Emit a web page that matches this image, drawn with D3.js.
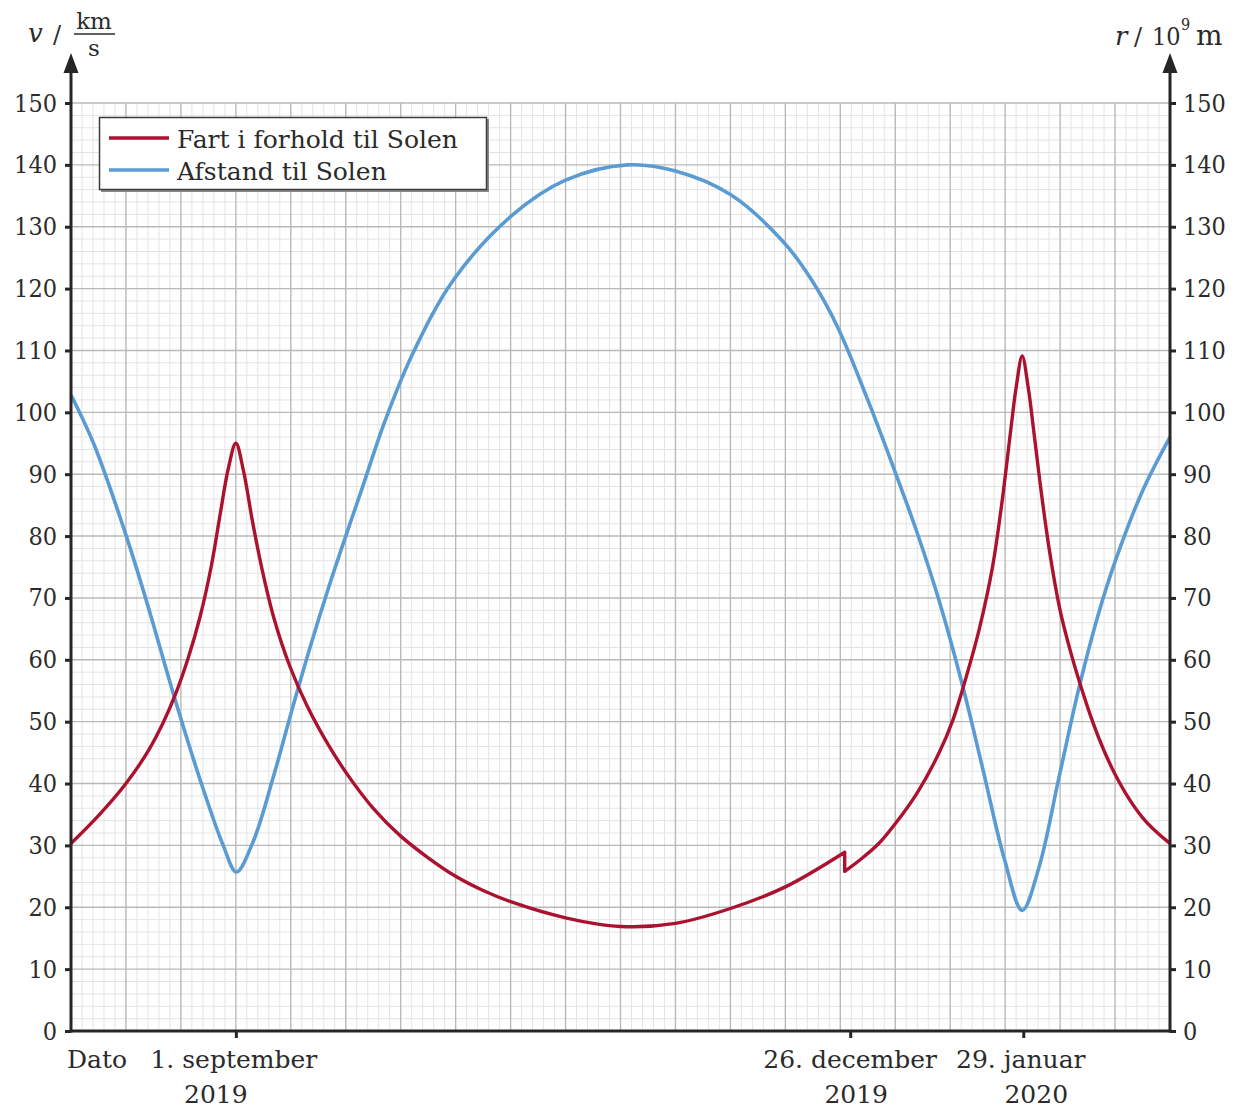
<!DOCTYPE html>
<html>
<head>
<meta charset="utf-8">
<script src="https://cdn.jsdelivr.net/npm/d3@7"></script>
<style>
  html, body { margin: 0; padding: 0; background: #fff; }
  svg text { font-family: "DejaVu Serif", serif; fill: #2b2b2b; }
  svg text.num { font-family: "DejaVu Serif Condensed", "DejaVu Serif", serif; }
</style>
</head>
<body>
<div id="chart"></div>
<script>
// Tid i gitterenheder (20 store tern langs x-aksen)
// Fart i forhold til Solen, før og efter manøvren 26. december
const fartTidFoer = [0, 0.5, 1.0, 1.4, 1.67, 1.9, 2.13, 2.35, 2.55, 2.72, 2.86, 3.0, 3.14, 3.3, 3.48, 3.7, 3.98,
    4.3, 4.7, 5.05, 5.5, 6.0, 6.5, 7.0, 7.5, 8.0, 9.0, 10.0, 11.0, 12.0, 13.0, 14.08];
const fartFoer = [30.3, 34.8, 40.0, 45.2, 49.7, 54.4, 60.2, 67.0, 75.0, 83.8, 90.8, 95.0, 90.5, 82.5, 74.5, 66.5, 59.0,
    52.5, 46.0, 41.2, 36.0, 31.5, 28.0, 25.0, 22.7, 20.9, 18.3, 16.9, 17.4, 19.8, 23.3, 28.9];
const fartTidEfter = [14.08, 14.35, 14.7, 15.0, 15.4, 15.8, 16.05, 16.3, 16.53, 16.77, 16.95, 17.1, 17.2, 17.31,
    17.42, 17.52, 17.63, 17.8, 18.0, 18.2, 18.35, 18.6, 18.8, 19.0, 19.25, 19.5, 19.75, 20];
const fartEfter = [25.8, 27.6, 30.3, 33.5, 38.5, 45.0, 50.3, 57.5, 65.0, 75.0, 86.0, 97.0, 104.0, 109.1,
    104.0, 97.0, 89.0, 78.0, 68.0, 61.0, 56.5, 49.8, 45.3, 41.5, 37.6, 34.5, 32.2, 30.3];

// Afstand til Solen (10^9 m)
const afstandTid = [0, 0.41, 1.01, 1.44, 1.86, 2.35, 2.77, 3.01, 3.31, 3.68, 4.04, 4.35, 4.7, 5.0, 5.29, 5.71,
    6.22, 6.96, 8.02, 8.99, 10.13, 11.0, 12.0, 12.97, 13.47, 13.95, 14.5, 14.95, 15.4, 15.8, 16.22, 16.59,
    16.98, 17.31, 17.62, 17.98, 18.35, 18.7, 19.01, 19.5, 20];
const afstand = [102.8, 95.0, 79.9, 67.5, 54.6, 40.6, 30.0, 25.7, 30.5, 41.0, 52.5, 62.0, 72.0, 80.0, 87.5, 98.5,
    109.5, 121.4, 131.8, 137.5, 140.0, 139.0, 135.2, 127.5, 121.5, 113.8, 102.0, 91.5, 80.5, 69.5, 56.0, 42.5,
    28.0, 19.5, 26.6, 41.0, 55.7, 67.5, 76.1, 87.3, 96.0];

const yTicks = d3.range(0, 151, 10);
const datoTicks = [3.0, 14.18, 17.33];
const datoLabels = [["1. september", "2019"], ["26. december", "2019"], ["29. januar", "2020"]];
const legendLabels = ["Fart i forhold til Solen", "Afstand til Solen"];

const width = 1242, height = 1110;
const plot = { left: 71, right: 1170, top: 103, bottom: 1031 };
const colors = { fart: '#ab1230', afstand: '#5b9bd3', axis: '#262626' };

class OrbitChart {
    constructor(containerId) {
        this.container = d3.select(`#${containerId}`);
        this.init();
    }

    init() {
        this.svg = this.container.append('svg')
            .attr('width', width)
            .attr('height', height);

        this.x = d3.scaleLinear().domain([0, 20]).range([plot.left, plot.right]);
        this.y = d3.scaleLinear().domain([0, 150]).range([plot.bottom, plot.top]);
    }

    render() {
        this.drawGrid();
        this.drawCurves();
        this.drawAxes();
        this.drawLegend();
        this.drawTitles();
    }

    drawGrid() {
        const g = this.svg.append('g').attr('class', 'grid');
        const xs = d3.range(0, 101).map(i => i / 5);
        const ys = d3.range(0, 76).map(i => i * 2);

        // fine tern
        g.selectAll('line.minor-x')
            .data(xs.filter(d => Math.abs(d - Math.round(d)) > 1e-6))
            .join('line')
            .attr('x1', d => this.x(d)).attr('x2', d => this.x(d))
            .attr('y1', plot.top).attr('y2', plot.bottom)
            .attr('stroke', '#e4e4e4').attr('stroke-width', 1);
        g.selectAll('line.minor-y')
            .data(ys.filter(d => d % 10 !== 0))
            .join('line')
            .attr('x1', plot.left).attr('x2', plot.right)
            .attr('y1', d => this.y(d)).attr('y2', d => this.y(d))
            .attr('stroke', '#e4e4e4').attr('stroke-width', 1);

        // store tern
        g.selectAll('line.major-x')
            .data(d3.range(1, 20))
            .join('line')
            .attr('x1', d => this.x(d)).attr('x2', d => this.x(d))
            .attr('y1', plot.top).attr('y2', plot.bottom)
            .attr('stroke', '#b9b9b9').attr('stroke-width', 1.4);
        g.selectAll('line.major-y')
            .data(yTicks.filter(d => d > 0))
            .join('line')
            .attr('x1', plot.left).attr('x2', plot.right)
            .attr('y1', d => this.y(d)).attr('y2', d => this.y(d))
            .attr('stroke', '#b9b9b9').attr('stroke-width', 1.4);
    }

    drawCurves() {
        const line = d3.line()
            .x(d => this.x(d[0]))
            .y(d => this.y(d[1]))
            .curve(d3.curveCatmullRom.alpha(0.5));

        const afstandData = afstandTid.map((t, i) => [t, afstand[i]]);
        const foer = fartTidFoer.map((t, i) => [t, fartFoer[i]]);
        const efter = fartTidEfter.map((t, i) => [t, fartEfter[i]]);

        this.svg.append('path')
            .attr('d', line(afstandData))
            .attr('fill', 'none')
            .attr('stroke', colors.afstand)
            .attr('stroke-width', 3.6);

        // springet ved manøvren tegnes som en lodret streg
        this.svg.append('path')
            .attr('d', line(foer) + line(efter).replace(/^M/, 'L'))
            .attr('fill', 'none')
            .attr('stroke', colors.fart)
            .attr('stroke-width', 3.4)
            .attr('stroke-linejoin', 'round');
    }

    drawAxes() {
        const left = this.svg.append('g')
            .attr('transform', `translate(${plot.left},0)`)
            .call(d3.axisLeft(this.y).tickValues(yTicks).tickSize(6).tickPadding(8));
        const right = this.svg.append('g')
            .attr('transform', `translate(${plot.right},0)`)
            .call(d3.axisRight(this.y).tickValues(yTicks).tickSize(6).tickPadding(7));
        const bottom = this.svg.append('g')
            .attr('transform', `translate(0,${plot.bottom})`)
            .call(d3.axisBottom(this.x).tickValues(datoTicks).tickSize(7).tickFormat(() => ''));

        [left, right, bottom].forEach(a => {
            a.select('.domain').remove();
            a.selectAll('.tick line').attr('stroke', colors.axis).attr('stroke-width', 3);
            a.selectAll('.tick text')
                .attr('class', 'num')
                .attr('font-family', null)
                .attr('font-size', 25)
                .attr('fill', '#2b2b2b');
        });

        const axisG = this.svg.append('g').attr('class', 'axis-lines');
        axisG.append('line')
            .attr('x1', plot.left - 1.5).attr('x2', plot.right + 1.5)
            .attr('y1', plot.bottom).attr('y2', plot.bottom)
            .attr('stroke', colors.axis).attr('stroke-width', 3);
        [plot.left, plot.right].forEach(x => {
            axisG.append('line')
                .attr('x1', x).attr('x2', x)
                .attr('y1', plot.bottom + 1.5).attr('y2', 70)
                .attr('stroke', colors.axis).attr('stroke-width', 3);
            axisG.append('path')
                .attr('d', `M${x},53 L${x - 7.5},73 L${x + 7.5},73 Z`)
                .attr('fill', colors.axis);
        });

        // datoetiketter under x-aksen
        const nudge = [[-2, -20], [0, 6], [-2.5, 13]];
        const lab = this.svg.append('g').attr('font-size', 25);
        datoTicks.forEach((t, i) => {
            lab.append('text')
                .attr('x', this.x(t) + nudge[i][0]).attr('y', 1068)
                .attr('text-anchor', 'middle')
                .text(datoLabels[i][0]);
            lab.append('text')
                .attr('x', this.x(t) + nudge[i][1]).attr('y', 1103)
                .attr('text-anchor', 'middle')
                .text(datoLabels[i][1]);
        });
        lab.append('text').attr('x', 67).attr('y', 1068).text('Dato');
    }

    drawLegend() {
        const g = this.svg.append('g').attr('class', 'legend');
        g.append('rect')
            .attr('x', 101).attr('y', 119).attr('width', 388).attr('height', 73)
            .attr('fill', '#8a8a8a');
        g.append('rect')
            .attr('x', 99.5).attr('y', 117.5).attr('width', 387).attr('height', 72)
            .attr('fill', '#fff').attr('stroke', '#3a3a3a').attr('stroke-width', 1.5);

        const rows = [colors.fart, colors.afstand];
        rows.forEach((c, i) => {
            const cy = 138 + i * 32;
            g.append('line')
                .attr('x1', 109).attr('x2', 169)
                .attr('y1', cy).attr('y2', cy)
                .attr('stroke', c).attr('stroke-width', 3.6);
            g.append('text')
                .attr('x', 177).attr('y', cy + 10)
                .attr('font-size', 25)
                .text(legendLabels[i]);
        });
    }

    drawTitles() {
        const g = this.svg.append('g');
        // venstre akse: v / km/s som brøk
        g.append('text').attr('x', 28).attr('y', 42).attr('font-size', 26)
            .attr('font-style', 'italic').text('v');
        g.append('text').attr('x', 53).attr('y', 43).attr('font-size', 24).text('/');
        const frac = g.append('text').attr('font-size', 23).attr('text-anchor', 'middle');
        frac.append('tspan').attr('x', 94).attr('y', 29).text('km');
        frac.append('tspan').attr('x', 94).attr('y', 56).text('s');
        g.append('line').attr('x1', 74).attr('x2', 115).attr('y1', 34).attr('y2', 34)
            .attr('stroke', '#2b2b2b').attr('stroke-width', 1.6);

        // højre akse: r / 10^9 m
        g.append('text').attr('x', 1115).attr('y', 45).attr('font-size', 26)
            .attr('font-style', 'italic').text('r');
        g.append('text').attr('x', 1134).attr('y', 45).attr('font-size', 24).text('/');
        const unit = g.append('text').attr('class', 'num').attr('font-size', 25);
        unit.append('tspan').attr('x', 1152).attr('y', 45).text('10');
        unit.append('tspan').attr('x', 1181).attr('y', 30).attr('font-size', 16).text('9');
        unit.append('tspan').attr('x', 1196).attr('y', 45).attr('font-size', 28)
            .style('font-family', '"DejaVu Serif", serif').text('m');
    }
}

const chart = new OrbitChart('chart');
chart.render();
</script>
</body>
</html>
